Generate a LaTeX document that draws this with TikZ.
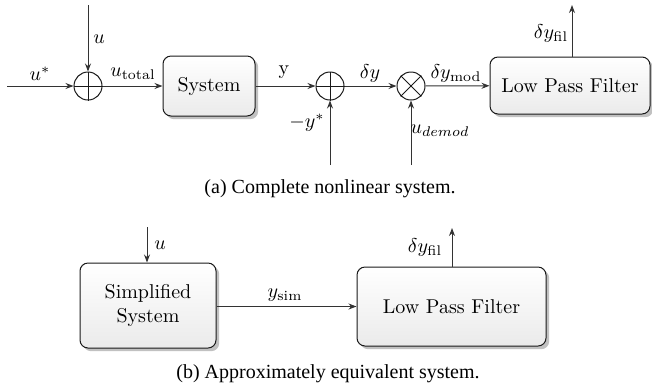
\documentclass[tikz,border=0pt]{standalone}
\usepackage{amsmath}
\usepackage{fontspec}
\newfontfamily\capfont{Liberation Serif}
\usetikzlibrary{arrows.meta,shadows}

\begin{document}
\begin{tikzpicture}[x=0.5pt,y=-0.5pt,
  >={Stealth[length=4pt,width=3pt]},
  wire/.style={line width=0.5pt, draw=black!80},
  block/.style={draw=black!90, line width=0.5pt, rounded corners=4pt,
    top color=white, bottom color=black!8,
    drop shadow={shadow xshift=1.6pt, shadow yshift=-1.6pt, fill=black!30, opacity=0.8},
    inner sep=0pt, align=center},
  junction/.style={circle, draw=black!90, line width=0.5pt, minimum size=14pt, inner sep=0pt},
  cross/.style={line width=0.5pt, draw=black!90},
  lbl/.style={inner sep=0pt},
  caption/.style={font=\capfont, inner sep=0pt}
]
\useasboundingbox (0,0) rectangle (652,387);

% ---------- (a) complete nonlinear system ----------
\node[junction] (sumA) at (88,86) {};
\draw[cross] (sumA.north) -- (sumA.south) (sumA.west) -- (sumA.east);
\node[junction] (sumB) at (330,86) {};
\draw[cross] (sumB.north) -- (sumB.south) (sumB.west) -- (sumB.east);
\node[junction] (mix) at (411,86) {};
\draw[cross] (mix.north west) -- (mix.south east) (mix.north east) -- (mix.south west);

\node[block, minimum width=46pt, minimum height=30pt] (sys) at (209,86) {System};
\node[block, minimum width=80pt, minimum height=28.5pt] (lpf) at (570,85.5) {Low Pass Filter};

\coordinate (uin) at (7,86);
\coordinate (uTop) at (88,5);
\coordinate (yref) at (330,165);
\coordinate (dem) at (411,165);
\coordinate (filOut) at (572,5);

\draw[wire,->] (uin) -- (sumA);
\draw[wire,->] (uTop) -- (sumA);
\draw[wire,->] (sumA) -- (sys);
\draw[wire,->] (sys) -- (sumB);
\draw[wire,->] (yref) -- (sumB);
\draw[wire,->] (sumB) -- (mix);
\draw[wire,->] (dem) -- (mix);
\draw[wire,->] (mix) -- (lpf);
\draw[wire,->] (filOut |- lpf.north) -- (filOut);

\node[lbl] (lu) at (99,39) {$u$};
\node[lbl] (lustar) at (40,74) {$u^*$};
\node[lbl] (lutot) at (133,74) {$u_{\text{total}}$};
\node[lbl] (ly) at (284,72) {y};
\node[lbl] (lyref) at (307,123) {$-y^*$};
\node[lbl] (ldy) at (370,73) {$\delta y$};
\node[lbl] (ldem) at (440,131) {$u_{demod}$};
\node[lbl] (ldymod) at (456,73) {$\delta y_{\text{mod}}$};
\node[lbl] (ldyfil) at (551,33) {$\delta y_{\text{fil}}$};

\node[caption] (capA) at (330,189) {(a) Complete nonlinear system.};

% ---------- (b) approximately equivalent system ----------
\node[block, minimum width=68pt, minimum height=42.5pt] (simp) at (148,305.5) {Simplified\\System};
\node[block, minimum width=94.5pt, minimum height=39.5pt] (lpfB) at (451.5,306.5) {Low Pass Filter};

\coordinate (uB) at (147,227);
\coordinate (filB) at (452,228);

\draw[wire,->] (uB) -- (uB |- simp.north);
\draw[wire,->] (simp.east |- lpfB.west) -- (lpfB.west);
\draw[wire,->] (filB |- lpfB.north) -- (filB);

\node[lbl] (luB) at (160,245) {$u$};
\node[lbl] (lysim) at (285,295) {$y_{\text{sim}}$};
\node[lbl] (ldyfilB) at (425,247) {$\delta y_{\text{fil}}$};

\node[caption] (capB) at (328,374) {(b) Approximately equivalent system.};
\end{tikzpicture}
\end{document}
